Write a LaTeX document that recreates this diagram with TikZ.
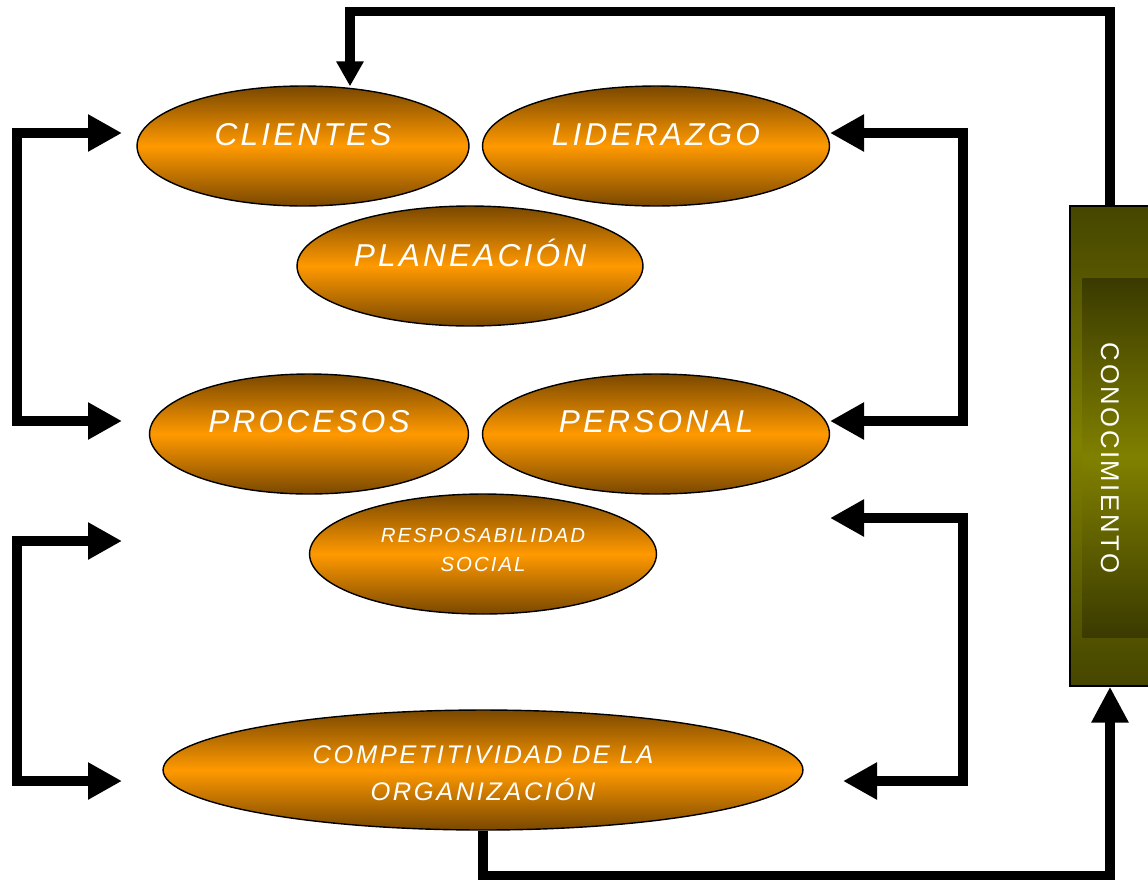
\documentclass[tikz,border=0pt]{standalone}
\usepackage{fontspec}
\newfontfamily\ovalfont{Liberation Sans}[LetterSpace=10]
\usetikzlibrary{arrows.meta,shapes.geometric,positioning}
\definecolor{corange}{HTML}{FF9900}
\definecolor{cbrown}{HTML}{7A4800}
\definecolor{colive}{HTML}{808000}
\definecolor{cdolive}{HTML}{3A3A00}
\definecolor{cmolive}{HTML}{464600}

\begin{document}
\begin{tikzpicture}[x=0.02cm,y=-0.02cm,
  oval/.style={ellipse,draw=black,line width=0.8pt,minimum height=2.4cm,
               top color=cbrown,bottom color=cbrown,middle color=corange},
  txt/.style={text=white,align=center,font=\ovalfont\itshape\fontsize{18}{21}\selectfont},
  brk/.style={{Triangle[length=0.68cm,width=0.7cm]}-{Triangle[length=0.68cm,width=0.7cm]},line width=0.19cm},
  fbdown/.style={-{Triangle[length=0.5cm,width=0.52cm]},line width=0.19cm},
  fbup/.style={-{Triangle[length=0.72cm,width=0.7cm]},line width=0.19cm}]
  \useasboundingbox (0,0) rectangle (1148,880);
  % ovals
  \node[oval,minimum width=6.64cm,label={[txt,yshift=0.22cm]center:CLIENTES}] (cli) at (303,146) {};
  \node[oval,minimum width=6.94cm,label={[txt,yshift=0.22cm]center:LIDERAZGO}] (lid) at (656,146) {};
  \node[oval,minimum width=6.92cm,label={[txt,yshift=0.26cm]center:PLANEACIÓN}] (pla) at (470,266) {};
  \node[oval,minimum width=6.38cm,label={[txt,yshift=0.24cm]center:PROCESOS}] (pro) at (309,434) {};
  \node[oval,minimum width=6.94cm,label={[txt,yshift=0.24cm]center:PERSONAL}] (per) at (656,434) {};
  \node[oval,minimum width=6.94cm,label={[txt,yshift=0.08cm,font=\ovalfont\itshape\fontsize{11.6}{16.4}\selectfont]center:RESPOSABILIDAD\\SOCIAL}] (res) at (483,554) {};
  \node[oval,minimum width=12.8cm,label={[txt,yshift=-0.06cm,font=\ovalfont\itshape\fontsize{14.5}{21}\selectfont]center:COMPETITIVIDAD DE LA\\ORGANIZACIÓN}] (comp) at (483,770) {};
  % knowledge bar
  \node[draw=black,line width=0.8pt,minimum width=1.6cm,minimum height=9.6cm,
        top color=cmolive,bottom color=cmolive,middle color=colive] (conoc) at (1110,446) {};
  \node[minimum width=1.34cm,minimum height=7.2cm,inner sep=0pt,
        top color=cdolive,bottom color=cdolive,middle color=colive] (inner) at (1116,458) {};
  \node[rotate=-90,text=white,font=\ovalfont\fontsize{14.6}{17}\selectfont] (ctxt) at (1110,458) {CONOCIMIENTO};
  % free ends of the brackets
  \coordinate (lt1) at (122,133); \coordinate (lt2) at (122,421);
  \coordinate (lb1) at (122,541); \coordinate (lb2) at (122,781);
  \coordinate (rt1) at (830,133); \coordinate (rt2) at (830,421);
  \coordinate (rb1) at (830,518); \coordinate (rb2) at (843,781);
  \foreach \a/\b/\d in {lt1/lt2/-105,lb1/lb2/-105,rt1/rt2/133,rb1/rb2/133}
     \draw[brk] (\a) -- ++(\d,0) |- (\b);
  % feedback loop
  \draw[fbdown] (conoc.north) |- ([xshift=0.94cm,yshift=1.48cm]cli.north) -- ([xshift=0.94cm,yshift=-0.02cm]cli.north);
  \draw[fbup] (comp.south) -- ++(0,45) -| (conoc.south);
\end{tikzpicture}
\end{document}
